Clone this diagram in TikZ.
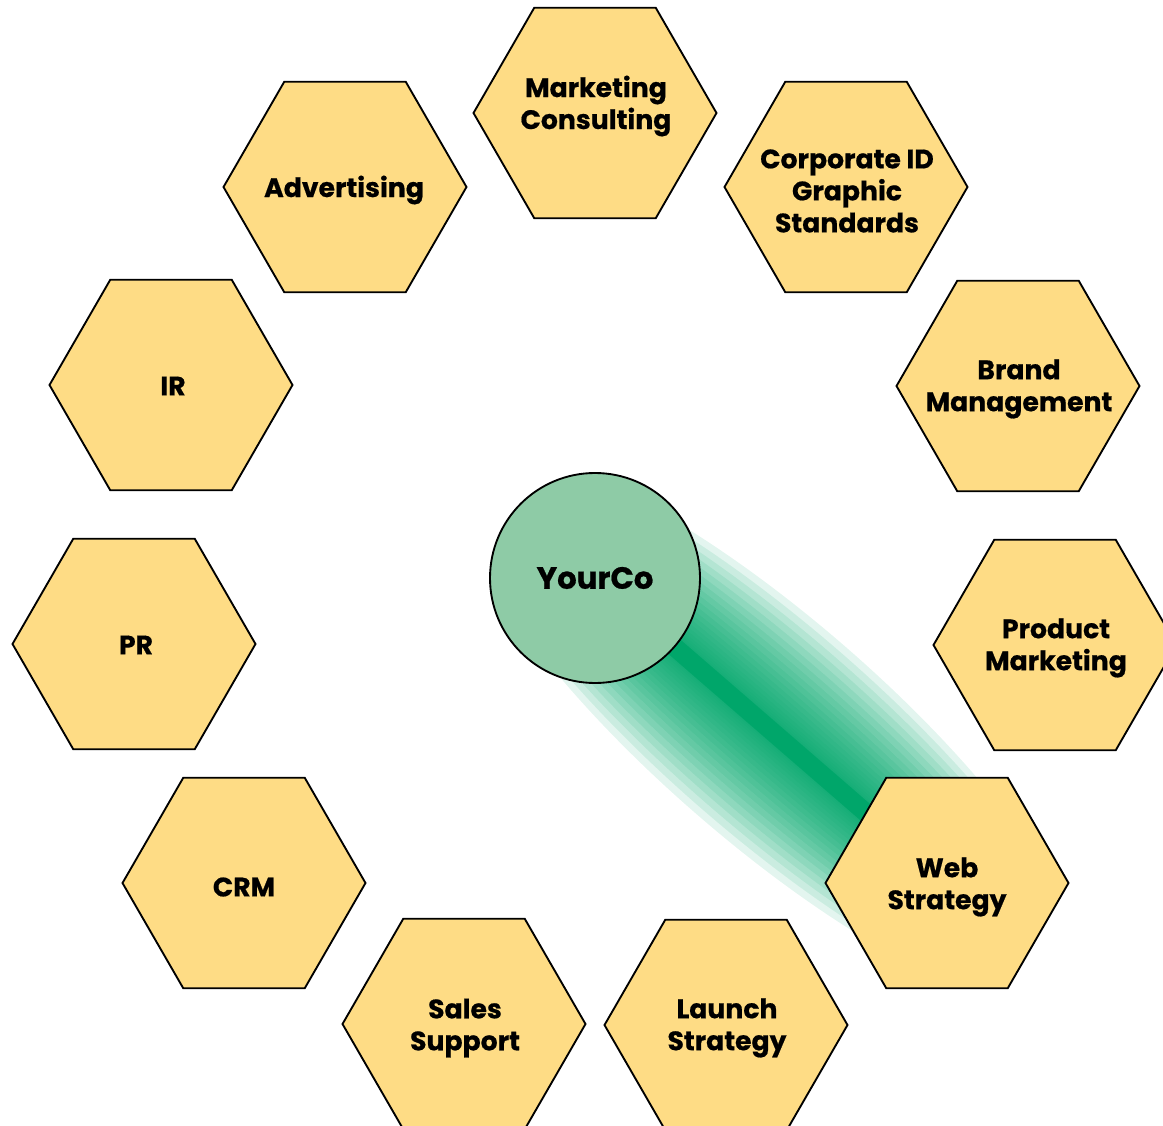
\documentclass[tikz,border=0pt]{standalone}
\usepackage{fontspec}
\setmainfont{Poppins}[BoldFeatures={FakeBold=0.6}]
\usetikzlibrary{shapes.geometric,backgrounds,calc}
\definecolor{hexfill}{RGB}{254,220,133}
\definecolor{circfill}{RGB}{142,203,166}
\definecolor{glowgreen}{RGB}{0,166,106}
\tikzset{
  hexbox/.style={regular polygon, regular polygon sides=6, minimum size=182.25pt,
    inner sep=0pt, draw=black, line width=1.4pt, fill=hexfill},
  hextext/.style={align=center, font=\fontsize{20}{24}\selectfont\bfseries, inner sep=0pt},
  hubbox/.style={circle, minimum size=157.5pt, inner sep=0pt, draw=black, line width=1.4pt, fill=circfill,
    font=\fontsize{23}{28}\selectfont\bfseries},
}
\begin{document}
\begin{tikzpicture}[x=0.75pt,y=-0.75pt]
\useasboundingbox (0,0) rectangle (1163,1126);
% hub
\node[hubbox] (yc) at (595,578) {YourCo};
% hexagons
\node[hexbox] (mc) at (595,113) {};
\node[hexbox] (adv) at (345,187) {};
\node[hexbox] (corp) at (846,187) {};
\node[hexbox] (ir) at (171,385) {};
\node[hexbox] (brand) at (1018,386) {};
\node[hexbox] (pr) at (134,644) {};
\node[hexbox] (prod) at (1055,645) {};
\node[hexbox] (crm) at (244,883) {};
\node[hexbox] (web) at (947,883) {};
\node[hexbox] (sales) at (464,1024) {};
\node[hexbox] (launch) at (726,1025) {};
% labels
\node[hextext] (tmc) at (596,106) {Marketing\\Consulting};
\node[hextext] (tadv) at (344,190) {Advertising};
\node[hextext] (tcorp) at (847,191) {Corporate ID\\Graphic\\Standards};
\node[hextext] (tir) at (173,386) {IR};
\node[hextext] (tbrand) at (1019,389) {Brand\\Management};
\node[hextext] (tpr) at (136,645) {PR};
\node[hextext] (tprod) at (1056,648) {Product\\Marketing};
\node[hextext] (tcrm) at (244,887) {CRM};
\node[hextext] (tweb) at (947,887) {Web\\Strategy};
\node[hextext] (tsales) at (465,1028) {Sales\\Support};
\node[hextext] (tlaunch) at (727,1028) {Launch\\Strategy};
% glow behind
\begin{scope}[on background layer]
  \coordinate (mid) at ($(yc.center)!0.5!(web.center)$);
  \clip ($(yc.center)!100pt!90:(web.center)$) -- ($(yc.center)!100pt!-90:(web.center)$)
     -- ($(web.center)!100pt!90:(yc.center)$) -- ($(web.center)!100pt!-90:(yc.center)$) -- cycle;
  \foreach \i in {1,...,22}{
    \pgfmathsetmacro\bb{0.75*(9+103*(\i/22)^1.6)}
    \fill[glowgreen, opacity=0.11, rotate around={-40.9:(mid)}] (mid) ellipse [x radius=300pt, y radius=\bb pt];
  }
  \draw[glowgreen, line width=14pt] (yc.center) -- (web.center);
\end{scope}
\end{tikzpicture}
\end{document}
